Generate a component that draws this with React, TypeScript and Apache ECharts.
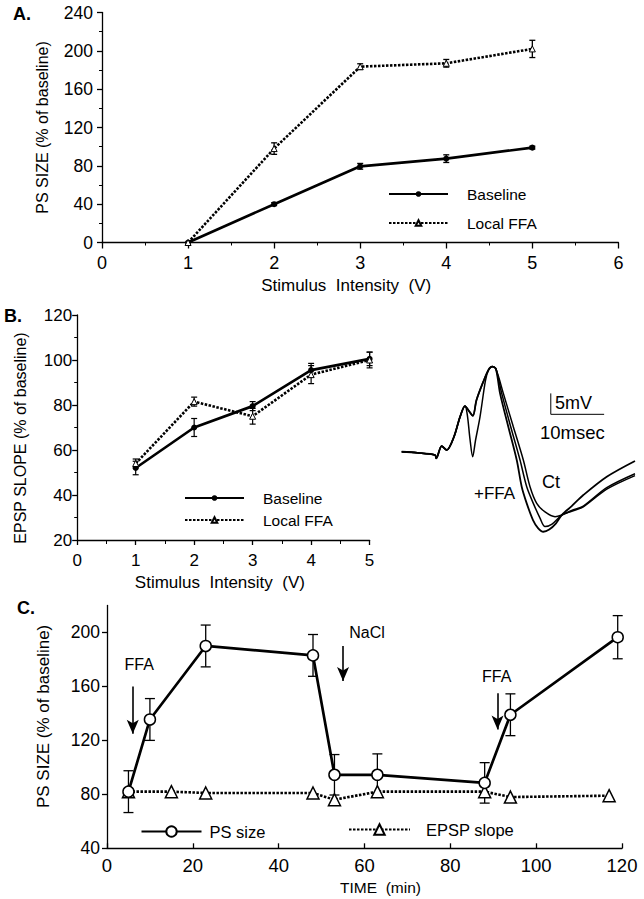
import React, { useEffect, useRef } from 'react';
import * as echarts from 'echarts';

const FONT = "'Liberation Sans', Arial, sans-serif";

// ---------- Panel A ----------
const aIntensity = [1, 2, 3, 4, 5];
const aBaseline = [0, 40, 79.5, 87.5, 99];
const aBaselineErr = [0, 1.5, 3, 4, 1.5];
const aFFA = [0, 98, 183.5, 187, 202];
const aFFAErr = [0, 6, 3, 4, 9];

// ---------- Panel B ----------
const bIntensity = [1, 2, 3, 4, 5];
const bBaseline = [52, 70, 79.5, 95.5, 100.5];
const bBaselineErr = [3, 4, 2, 3, 3];
const bFFA = [54, 81.5, 75, 93.5, 100];
const bFFAErr = [2, 2, 3.5, 4, 3.5];

// ---------- Panel B field-potential traces (ms, mV from baseline) ----------
const trCommonT = [0, 3, 6.37, 6.6, 7.65, 8.6, 10.0, 11.15, 12.1];
const trCommonV = [0, -0.3, -0.9, -1.8, 1.55, 0.46, 4.1, 9.5, 12.45];
const trThickDipT = [12.9, 13.6, 14.3, 15.6];
const trThickDipV = [11.0, 9.8, 14.1, 19.1];
const trThinDipT = [12.55, 13.05, 13.57, 14.1, 14.97, 16.0];
const trThinDipV = [10.0, 3.5, -1.36, 3.0, 9.5, 19.3];
const trPeakT = [16.6, 17.3, 18.0];
const trPeakV = [22.3, 23.2, 22.6];
const trFfa1FallT = [18.8, 20.38, 21.99, 22.94, 23.9, 25.1, 26.06, 27.07, 28.2, 29.5, 30.6, 32.5, 34.72, 39.2, 44.6];
const trFfa1FallV = [15.9, 6.8, -2.26, -9.54, -14.06, -18.6, -20.8, -21.8, -21.2, -19.5, -17.25, -14.8, -11.8, -6.8, -2.5];
const trFfa2FallT = [19.12, 20.84, 22.62, 23.9, 25.16, 26.44, 27.4, 28.74, 30.6, 32.5, 34.72, 39.2, 44.6];
const trFfa2FallV = [15.9, 6.8, -2.26, -9.54, -14.06, -18.07, -20.4, -19.7, -17.25, -16.2, -15.0, -10.2, -6.5];
const trCtFallT = [19.43, 21.34, 23.25, 24.53, 25.81, 27.4, 29.31, 30.6, 32.5, 34.72, 39.2, 44.6];
const trCtFallV = [15.9, 6.8, -2.26, -9.54, -14.06, -16.4, -17.7, -17.25, -16.0, -14.8, -9.8, -6.0];
const scaleBarT = [28.5, 28.5, 38.7];
const scaleBarV = [15.9, 10.2, 10.2];

// ---------- Panel C ----------
const cTimePS = [5, 10, 23, 48, 53, 63, 88, 94, 119];
const cPS = [82, 135.5, 190, 183, 94.5, 94.5, 88.5, 139, 196.5];
const cPSErr = [15.5, 15.5, 15.5, 15.5, 15, 15.5, 15, 15.5, 16];
const cTimeEPSP = [5, 15, 23, 48, 53, 63, 88, 94, 117];
const cEPSP = [82, 82, 81, 81, 76, 82, 82, 78, 79];
const cArrowTime = [6, 55, 91];
const cArrowFrom = [160, 190, 155];
const cArrowTo = [125, 164, 128];
const cArrowLabel = ['FFA', 'NaCl', 'FFA'];
const cArrowLabelTime = [7.5, 60.6, 90.8];
const cArrowLabelValue = [176.5, 200, 167.7];
const cYLabels = [40, 80, 120, 160, 200];

const zip = (xs: number[], ys: number[]) => xs.map((x, i) => [x, ys[i]]);

const errorSeries = (axisIndex: number, xs: number[], ys: number[], errs: number[], cap: number, lw: number) => ({
  type: 'custom',
  xAxisIndex: axisIndex,
  yAxisIndex: axisIndex,
  silent: true,
  z: 1,
  data: xs.map((x, i) => [x, ys[i] - errs[i], ys[i] + errs[i]]),
  encode: { x: 0, y: [1, 2] },
  renderItem: (_p: any, api: any) => {
    const lo = api.coord([api.value(0), api.value(1)]);
    const hi = api.coord([api.value(0), api.value(2)]);
    const st = { stroke: '#000', lineWidth: lw };
    return {
      type: 'group',
      children: [
        { type: 'line', shape: { x1: lo[0], y1: lo[1], x2: hi[0], y2: hi[1] }, style: st },
        { type: 'line', shape: { x1: hi[0] - cap, y1: hi[1], x2: hi[0] + cap, y2: hi[1] }, style: st },
        { type: 'line', shape: { x1: lo[0] - cap, y1: lo[1], x2: lo[0] + cap, y2: lo[1] }, style: st },
      ],
    };
  },
});

const axisLineStyle = { color: '#000', width: 1.3 };
const labelStyle = (size: number, margin: number) => ({ color: '#000', fontSize: size, margin, fontFamily: FONT });
const DOT = [2.5, 1.5];

export default function App() {
  const ref = useRef<HTMLDivElement>(null);
  useEffect(() => {
    if (!ref.current) return;
    const chart = echarts.init(ref.current, undefined, { renderer: 'svg' });
    const traceLine = (name: string, t: number[], v: number[], w: number) => ({
      type: 'line', name, xAxisIndex: 2, yAxisIndex: 2, data: zip(t, v), showSymbol: false, symbol: 'none',
      smooth: 0.3, silent: true, lineStyle: { color: '#000', width: w },
    });
    const option: any = {
      animation: false,
      backgroundColor: '#fff',
      textStyle: { fontFamily: FONT, color: '#000' },
      grid: [
        { left: 102, top: 12.5, width: 516.4, height: 230 },
        { left: 77.2, top: 315, width: 292.4, height: 225 },
        { left: 401.7, top: 360, width: 233.3, height: 183.5 },
        { left: 107, top: 605.5, width: 515, height: 242.8 },
      ],
      xAxis: [
        {
          gridIndex: 0, type: 'value', min: 0, max: 6, interval: 1,
          axisLine: { lineStyle: axisLineStyle }, axisTick: { length: 6, lineStyle: axisLineStyle },
          minorTick: { show: true, splitNumber: 2, length: 3, lineStyle: { color: '#000' } },
          splitLine: { show: false }, axisLabel: labelStyle(18, 11),
          name: 'Stimulus  Intensity  (V)', nameLocation: 'middle', nameGap: 34,
          nameTextStyle: { fontSize: 17, color: '#000', fontFamily: FONT, padding: [0, 28, 0, 0] },
        },
        {
          gridIndex: 1, type: 'value', min: 0, max: 5, interval: 1,
          axisLine: { lineStyle: axisLineStyle }, axisTick: { length: 5, lineStyle: axisLineStyle },
          minorTick: { show: true, splitNumber: 2, length: 4, lineStyle: { color: '#000' } },
          splitLine: { show: false }, axisLabel: labelStyle(17, 12),
          name: 'Stimulus  Intensity  (V)', nameLocation: 'middle', nameGap: 34,
          nameTextStyle: { fontSize: 17, color: '#000', fontFamily: FONT, padding: [0, 7, 0, 0] },
        },
        { gridIndex: 2, type: 'value', min: 0, max: 44.6, show: false },
        {
          gridIndex: 3, type: 'value', min: 0, max: 120, interval: 20,
          axisLine: { lineStyle: axisLineStyle }, axisTick: { inside: true, length: 5, lineStyle: axisLineStyle },
          splitLine: { show: false }, axisLabel: labelStyle(18.5, 8),
          name: 'TIME  (min)', nameLocation: 'middle', nameGap: 31,
          nameTextStyle: { fontSize: 15.5, color: '#000', fontFamily: FONT, padding: [0, 0, 0, 32] },
        },
      ],
      yAxis: [
        {
          gridIndex: 0, type: 'value', min: 0, max: 240, interval: 40,
          axisLine: { show: true, lineStyle: axisLineStyle }, axisTick: { show: true, length: 5, lineStyle: axisLineStyle },
          minorTick: { show: true, splitNumber: 2, length: 3, lineStyle: { color: '#000' } },
          splitLine: { show: false }, axisLabel: labelStyle(17.5, 9),
          name: 'PS SIZE (% of baseline)', nameLocation: 'middle', nameGap: 52, nameRotate: 90,
          nameTextStyle: { fontSize: 16, color: '#000', fontFamily: FONT },
        },
        {
          gridIndex: 1, type: 'value', min: 20, max: 120, interval: 20,
          axisLine: { show: true, lineStyle: axisLineStyle }, axisTick: { show: true, length: 5, lineStyle: axisLineStyle },
          minorTick: { show: true, splitNumber: 2, length: 3, lineStyle: { color: '#000' } },
          splitLine: { show: false }, axisLabel: labelStyle(17, 5),
          name: 'EPSP SLOPE (% of baseline)', nameLocation: 'middle', nameGap: 49, nameRotate: 90,
          nameTextStyle: { fontSize: 16, color: '#000', fontFamily: FONT, padding: [0, 21, 0, 0] },
        },
        { gridIndex: 2, type: 'value', min: -25, max: 25, show: false },
        {
          gridIndex: 3, type: 'value', min: 40, max: 220, interval: 40,
          axisLine: { show: true, lineStyle: axisLineStyle },
          axisTick: { show: true, length: 5, lineStyle: axisLineStyle, customValues: cYLabels },
          splitLine: { show: false },
          axisLabel: { ...labelStyle(17.5, 7), customValues: cYLabels, formatter: (v: number) => (v === 220 ? '' : String(v)) },
          name: 'PS SIZE (% of baseline)', nameLocation: 'middle', nameGap: 55, nameRotate: 90,
          nameTextStyle: { fontSize: 17, color: '#000', fontFamily: FONT, padding: [0, 0, 0, 21] },
        },
      ],
      legend: [
        {
          left: 383, top: 181, orient: 'vertical', itemWidth: 59, itemHeight: 7, itemGap: 13,
          selectedMode: false, data: ['Baseline', 'Local FFA'],
          textStyle: { fontSize: 15.5, color: '#000', fontFamily: FONT, lineHeight: 16, padding: [0, 0, 0, 14] },
        },
        {
          left: 179, top: 485, orient: 'vertical', itemWidth: 59, itemHeight: 7, itemGap: 6,
          selectedMode: false, data: ['Baseline', 'Local FFA'],
          textStyle: { fontSize: 15.5, color: '#000', fontFamily: FONT, lineHeight: 16, padding: [0, 0, 0, 14] },
        },
        {
          left: 135.5, top: 818, itemWidth: 60, itemHeight: 13, selectedMode: false, data: ['PS size'],
          textStyle: { fontSize: 16.5, color: '#000', fontFamily: FONT, padding: [0, 0, 0, 3] },
        },
        {
          left: 343, top: 816, itemWidth: 61, itemHeight: 13, selectedMode: false, data: ['EPSP slope'],
          textStyle: { fontSize: 16.5, color: '#000', fontFamily: FONT, padding: [0, 0, 0, 11] },
        },
      ],
      series: [
        // Panel A
        errorSeries(0, aIntensity, aBaseline, aBaselineErr, 3, 1.3),
        errorSeries(0, aIntensity, aFFA, aFFAErr, 3, 1.3),
        {
          type: 'line', name: 'Baseline', xAxisIndex: 0, yAxisIndex: 0, data: zip(aIntensity, aBaseline),
          symbol: 'circle', symbolSize: 6, itemStyle: { color: '#000' }, lineStyle: { color: '#000', width: 2.7 }, z: 3,
        },
        {
          type: 'line', name: 'Local FFA', xAxisIndex: 0, yAxisIndex: 0, data: zip(aIntensity, aFFA),
          symbol: 'triangle', symbolSize: 6, itemStyle: { color: '#fff', borderColor: '#000', borderWidth: 1 },
          lineStyle: { color: '#000', width: 2.6, type: DOT }, z: 3,
        },
        // Panel B
        errorSeries(1, bIntensity, bBaseline, bBaselineErr, 3, 1.2),
        errorSeries(1, bIntensity, bFFA, bFFAErr, 3, 1.2),
        {
          type: 'line', name: 'Baseline', xAxisIndex: 1, yAxisIndex: 1, data: zip(bIntensity, bBaseline),
          symbol: 'circle', symbolSize: 6, itemStyle: { color: '#000' }, lineStyle: { color: '#000', width: 2.7 }, z: 3,
        },
        {
          type: 'line', name: 'Local FFA', xAxisIndex: 1, yAxisIndex: 1, data: zip(bIntensity, bFFA),
          symbol: 'triangle', symbolSize: 6, itemStyle: { color: '#fff', borderColor: '#000', borderWidth: 1 },
          lineStyle: { color: '#000', width: 2.6, type: DOT }, z: 3,
        },
        // Traces
        traceLine('trace +FFA 1', [...trCommonT, ...trThickDipT, ...trPeakT, ...trFfa1FallT], [...trCommonV, ...trThickDipV, ...trPeakV, ...trFfa1FallV], 1.8),
        traceLine('trace +FFA 2', [...trCommonT, ...trThickDipT, ...trPeakT, ...trFfa2FallT], [...trCommonV, ...trThickDipV, ...trPeakV, ...trFfa2FallV], 1.5),
        traceLine('trace Ct', [...trCommonT, ...trThinDipT, ...trPeakT, ...trCtFallT], [...trCommonV, ...trThinDipV, ...trPeakV, ...trCtFallV], 1.5),
        {
          type: 'line', name: 'scale bar', xAxisIndex: 2, yAxisIndex: 2, data: zip(scaleBarT, scaleBarV),
          showSymbol: false, symbol: 'none', silent: true, lineStyle: { color: '#000', width: 1 },
        },
        // Panel C
        errorSeries(3, cTimePS, cPS, cPSErr, 5, 1.3),
        {
          type: 'line', name: 'EPSP slope', xAxisIndex: 3, yAxisIndex: 3, data: zip(cTimeEPSP, cEPSP),
          symbol: 'triangle', symbolSize: 12, itemStyle: { color: '#fff', borderColor: '#000', borderWidth: 1.5 },
          lineStyle: { color: '#000', width: 2.6, type: DOT }, z: 3,
        },
        {
          type: 'line', name: 'PS size', xAxisIndex: 3, yAxisIndex: 3, data: zip(cTimePS, cPS),
          symbol: 'circle', symbolSize: 11, itemStyle: { color: '#fff', borderColor: '#000', borderWidth: 1.5 },
          lineStyle: { color: '#000', width: 2.7 }, z: 4,
          markLine: {
            silent: true, symbol: ['none', 'arrow'], symbolSize: [9, 14], label: { show: false },
            lineStyle: { color: '#000', width: 1.6, type: 'solid' },
            data: cArrowTime.map((t, i) => [{ coord: [t, cArrowFrom[i]] }, { coord: [t, cArrowTo[i]] }]),
          },
          markPoint: {
            silent: true, symbol: 'circle', symbolSize: 1, itemStyle: { color: 'rgba(0,0,0,0)' },
            label: { show: true, position: 'inside', color: '#000', fontSize: 16, fontFamily: FONT },
            data: cArrowLabel.map((s, i) => ({ coord: [cArrowLabelTime[i], cArrowLabelValue[i]], value: s, label: { formatter: s } })),
          },
        },
      ],
      graphic: [
        { type: 'text', x: 13, y: 14, style: { text: 'A.', font: `bold 18px ${FONT}`, fill: '#000', verticalAlign: 'middle' } },
        { type: 'text', x: 4, y: 316, style: { text: 'B.', font: `bold 18px ${FONT}`, fill: '#000', verticalAlign: 'middle' } },
        { type: 'text', x: 17, y: 608, style: { text: 'C.', font: `bold 18px ${FONT}`, fill: '#000', verticalAlign: 'middle' } },
        { type: 'text', x: 474, y: 493, style: { text: '+FFA', font: `17px ${FONT}`, fill: '#000', verticalAlign: 'middle' } },
        { type: 'text', x: 542, y: 482, style: { text: 'Ct', font: `18px ${FONT}`, fill: '#000', verticalAlign: 'middle' } },
        { type: 'text', x: 555, y: 403, style: { text: '5mV', font: `18px ${FONT}`, fill: '#000', verticalAlign: 'middle' } },
        { type: 'text', x: 540, y: 432, style: { text: '10msec', font: `18.5px ${FONT}`, fill: '#000', verticalAlign: 'middle' } },
      ],
    };
    chart.setOption(option);
    return () => chart.dispose();
  }, []);
  return (
    <div
      ref={ref}
      style={{ position: 'fixed', left: 0, top: 0, width: 644, height: 899, background: '#fff' }}
    />
  );
}
